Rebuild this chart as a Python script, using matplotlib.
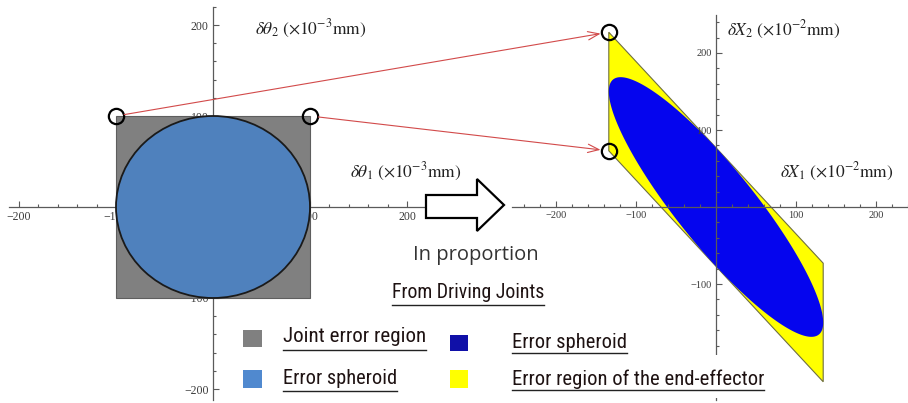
import numpy as np
import matplotlib
matplotlib.use('Agg')
import matplotlib.pyplot as plt
from matplotlib import font_manager as fm
from matplotlib.patches import Polygon, Rectangle, Ellipse, ConnectionPatch
from matplotlib.lines import Line2D
from matplotlib.ticker import MultipleLocator

# ---------------- data ----------------
joint_corners_x = [-100, 100, 100, -100]
joint_corners_y = [-100, -100, 100, 100]
spheroid_radius = 100
jacobian = [[0.0, -1.34], [-0.77, 1.50]]
left_ticks = [-200, -100, 100, 200]
right_ticks = [-200, -100, 100, 200]
marked_corners = [(-100, 100), (100, 100)]
legend_left = ['Joint error region', 'Error spheroid']
legend_right = ['Error spheroid', 'Error region of the end-effector']
heading = 'From Driving Joints'
arrow_caption = 'In proportion'

plt.rcParams['font.family'] = ['Liberation Serif', 'DejaVu Serif']
plt.rcParams['mathtext.fontset'] = 'stix'

W, H = 908, 403
fig = plt.figure(figsize=(W / 100, H / 100), dpi=100)


def fx(px):
    return px / W


def fy(py):
    return 1 - py / H


def tick_label(v):
    return ('\u2212' + str(-v)) if v < 0 else str(v)


def pick_narrow():
    entries = fm.fontManager.ttflist

    def regular(f):
        return str(f.weight).lower() in ('400', 'normal', 'regular', 'book') and f.style == 'normal'
    prefs = ['Liberation Sans Narrow', 'Roboto Condensed', 'Arial Narrow', 'Open Sans Condensed',
             'Noto Sans Condensed', 'DejaVu Sans Condensed']
    for p in prefs:
        for f in entries:
            if f.name == p and regular(f):
                return fm.FontProperties(fname=f.fname)
    for f in entries:
        if regular(f) and ('ondensed' in str(f.stretch) or 'Narrow' in f.fname or 'Condensed' in f.fname):
            return fm.FontProperties(fname=f.fname)
    return fm.FontProperties(family='Roboto')


def make_axes(x0, sx, y0, sy, xlim, ylim, ticks, lsize):
    left = x0 + sx * xlim[0]
    right = x0 + sx * xlim[1]
    top = y0 - sy * ylim[1]
    bottom = y0 - sy * ylim[0]
    ax = fig.add_axes([left / W, 1 - bottom / H, (right - left) / W, (bottom - top) / H])
    ax.set_xlim(xlim)
    ax.set_ylim(ylim)
    ax.patch.set_visible(False)
    for s in ['top', 'right']:
        ax.spines[s].set_visible(False)
    for s in ['left', 'bottom']:
        ax.spines[s].set_position(('data', 0))
        ax.spines[s].set_color('#5a5a5a')
        ax.spines[s].set_linewidth(0.9)
    ax.set_xticks(ticks, [tick_label(t) for t in ticks])
    ax.set_yticks(ticks, [tick_label(t) for t in ticks])
    ax.xaxis.set_minor_locator(MultipleLocator(20))
    ax.yaxis.set_minor_locator(MultipleLocator(20))
    ax.tick_params(which='both', direction='in', color='#5a5a5a', width=0.8,
                   labelsize=lsize, labelcolor='#3a3a3a', pad=3)
    ax.tick_params(which='major', length=4)
    ax.tick_params(which='minor', length=2)
    return ax


# ---------------- left panel ----------------
axL = make_axes(213, 0.97, 207, 0.91, (-210, 218), (-212, 220), left_ticks, 8.5)
axL.set_axisbelow(True)
for s in axL.spines.values():
    s.set_zorder(0.4)
axL.add_patch(Polygon(np.column_stack([joint_corners_x, joint_corners_y]), closed=True,
                      facecolor='#808080', edgecolor='#5e5e5e', lw=0.8, zorder=1))
axL.add_patch(Ellipse((0, 0), 2 * spheroid_radius, 2 * spheroid_radius,
                      facecolor='#4F81BD', edgecolor='#1a1a1a', lw=1.3, zorder=2))
mx = [c[0] for c in marked_corners]
my = [c[1] for c in marked_corners]
axL.plot(mx, my, 'o', ms=11, mfc='none', mec='black', mew=1.6, clip_on=False, zorder=6)

# ---------------- right panel ----------------
axR = make_axes(716, 0.80, 207, 0.77, (-255, 240), (-250, 249), right_ticks, 7.5)
J = np.array(jacobian)
sq = np.vstack([joint_corners_x, joint_corners_y])
par = J @ sq
axR.add_patch(Polygon(par.T, closed=True, facecolor='#FFFF00', edgecolor='#6f6f40',
                      lw=0.8, zorder=1))
t = np.linspace(0, 2 * np.pi, 400)
circ = spheroid_radius * np.vstack([np.cos(t), np.sin(t)])
ell = J @ circ
axR.add_patch(Polygon(ell.T, closed=True, facecolor='#0505EE', edgecolor='none', zorder=1.5))
mk = J @ np.array(marked_corners).T
axR.plot(mk[0], mk[1], 'o', ms=11, mfc='none', mec='black', mew=1.6, clip_on=False, zorder=6)

# red connecting arrows
for (a, b), (c, d) in zip(marked_corners, mk.T):
    con = ConnectionPatch(xyA=(a, b), coordsA=axL.transData, xyB=(c, d), coordsB=axR.transData,
                          arrowstyle='->,head_length=0.8,head_width=0.3', color='#d24a4a',
                          lw=0.8, shrinkA=6, shrinkB=6, zorder=5)
    fig.add_artist(con)

# axis captions
cap_kw = dict(fontsize=12.5, color='#222222', va='center', ha='left')
fig.text(fx(255), fy(29), r'$\delta\theta_2\ (\times10^{-3}\mathrm{mm})$', **cap_kw)
fig.text(fx(350), fy(172), r'$\delta\theta_1\ (\times10^{-3}\mathrm{mm})$', **cap_kw)
fig.text(fx(727), fy(30), r'$\delta X_2\ (\times10^{-2}\mathrm{mm})$', **cap_kw)
fig.text(fx(780), fy(172), r'$\delta X_1\ (\times10^{-2}\mathrm{mm})$', **cap_kw)

# hollow block arrow
arr_px = [(426, 195), (477, 195), (477, 179), (504, 205), (477, 231), (477, 218), (426, 218)]
fig.add_artist(Polygon([(fx(x), fy(y)) for x, y in arr_px], closed=True, transform=fig.transFigure,
                       facecolor='white', edgecolor='black', lw=1.6, zorder=3))

# white box behind lower legend text
fig.add_artist(Rectangle((fx(506), fy(398)), (770 - 506) / W, (398 - 355) / H,
                         transform=fig.transFigure, facecolor='white', edgecolor='none', zorder=3))

narrow = pick_narrow()
txt_color = '#1e1212'
fitted = []   # (text, target width px, underline y px or None)

tp = fig.text(fx(413), fy(255), arrow_caption, fontsize=13,
              fontproperties=fm.FontProperties(family=['Open Sans', 'DejaVu Sans'], size=13),
              color='#333333', ha='left', va='center')
fitted.append((tp, 125, None))

t0 = fig.text(fx(392), fy(293), heading, fontproperties=narrow.copy(), color=txt_color,
              ha='left', va='center', zorder=4)
t0.set_fontsize(15)
fitted.append((t0, 153, 305))

# legend swatches
sw = [((243, 330, 262, 347), '#808080'), ((243, 370, 262, 388), '#5089CF'),
      ((450, 335, 468, 351), '#1010A8'), ((450, 370, 468, 388), '#FFFF00')]
for (x0, y0, x1, y1), col in sw:
    fig.add_artist(Rectangle((fx(x0), fy(y1)), (x1 - x0) / W, (y1 - y0) / H,
                             transform=fig.transFigure, facecolor=col, edgecolor='none', zorder=4))

pos_left = [(283, 337, 350, 144), (283, 378, 391, 114)]
for lab, (x, y, u, wd) in zip(legend_left, pos_left):
    tt = fig.text(fx(x), fy(y), lab, fontproperties=narrow.copy(), color=txt_color,
                  ha='left', va='center', zorder=4)
    tt.set_fontsize(14)
    fitted.append((tt, wd, u))
pos_right = [(512, 343, 353, 115), (512, 379, 390, 254)]
for lab, (x, y, u, wd) in zip(legend_right, pos_right):
    tt = fig.text(fx(x), fy(y), lab, fontproperties=narrow.copy(), color=txt_color,
                  ha='left', va='center', zorder=4)
    tt.set_fontsize(14)
    fitted.append((tt, wd, u))

# fit text sizes to the widths seen in the reference
fig.canvas.draw()
r = fig.canvas.get_renderer()
for tt, wd, u in fitted:
    bb = tt.get_window_extent(r)
    tt.set_fontsize(min(tt.get_fontsize() * wd / bb.width, 17))

fig.canvas.draw()
for tt, wd, u in fitted:
    if u is None:
        continue
    bb = tt.get_window_extent(r)
    fig.add_artist(Line2D([bb.x0 / W, bb.x1 / W], [fy(u), fy(u)], transform=fig.transFigure,
                          color='#222222', lw=1.0, zorder=4))

fig.savefig('out.png', dpi=100)
